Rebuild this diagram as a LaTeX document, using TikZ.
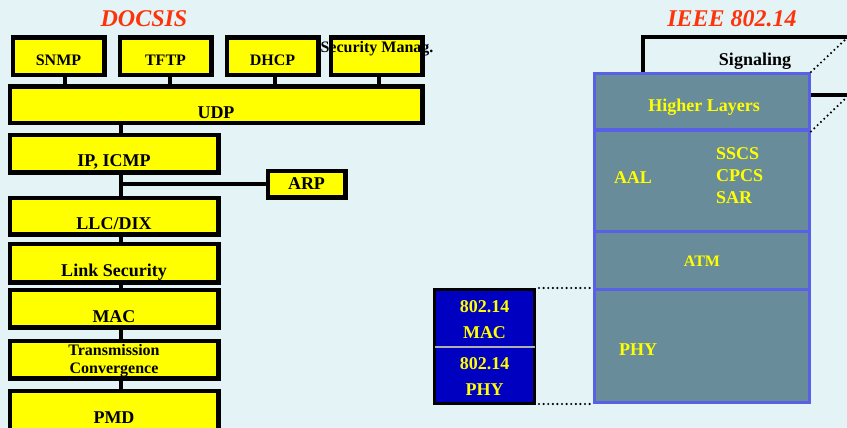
\documentclass[tikz,border=0pt]{standalone}
\usepackage{fontspec}
\setmainfont{Liberation Serif}
\definecolor{bg}{RGB}{228,244,246}
\definecolor{titlered}{RGB}{255,51,10}
\definecolor{boxyellow}{RGB}{255,255,0}
\definecolor{stackfill}{RGB}{105,140,154}
\definecolor{stackline}{RGB}{88,96,230}
\definecolor{macblue}{RGB}{0,0,192}
\definecolor{sepgrey}{RGB}{176,176,176}
\begin{document}
\begin{tikzpicture}[x=1pt,y=-1pt,
  ybox/.style={draw=black,line width=3pt,fill=boxyellow,rectangle,inner sep=0pt},
  sbox/.style={draw=stackline,line width=3pt,fill=stackfill,rectangle,inner sep=0pt},
  bbox/.style={draw=black,line width=3pt,fill=macblue,rectangle,inner sep=0pt},
  conn/.style={line width=3.2pt,draw=black},
  dotline/.style={line width=2.4pt,dash pattern=on 0pt off 4.6pt,line cap=round},
  lbl/.style={anchor=base,inner sep=0pt,font=\bfseries\fontsize{18}{18}\selectfont},
  lblsm/.style={anchor=base,inner sep=0pt,font=\bfseries\fontsize{16}{16}\selectfont},
  ylbl/.style={lbl,text=boxyellow},
  ylblsm/.style={lblsm,text=boxyellow},
  heading/.style={anchor=base,inner sep=0pt,text=titlered,font=\bfseries\itshape\fontsize{24}{24}\selectfont}]
\useasboundingbox (0,0) rectangle (847,428);
\fill[bg] (0,0) rectangle (847,428);

% ---------------- DOCSIS stack ----------------
\node[heading] (docsis) at (144,27) {DOCSIS};

\node[ybox,minimum width=90pt,minimum height=36pt] (snmp) at (58.5,56.5) {};
\node[ybox,minimum width=90pt,minimum height=36pt] (tftp) at (165.5,56.5) {};
\node[ybox,minimum width=90pt,minimum height=36pt] (dhcp) at (272.5,56.5) {};
\node[ybox,minimum width=90pt,minimum height=36pt] (secm) at (376.5,56.5) {};
\node[lblsm] (snmpT) at (58.5,66) {SNMP};
\node[lblsm] (tftpT) at (165.5,66) {TFTP};
\node[lblsm] (dhcpT) at (272.5,66) {DHCP};
\node[lblsm] (secmT) at (377,53) {Security Manag.};

\node[ybox,minimum width=411pt,minimum height=35pt] (udp) at (216,105) {};
\node[lbl] (udpT) at (216,118) {UDP};

\node[ybox,minimum width=207pt,minimum height=36pt] (ip) at (114,153.5) {};
\node[lbl] (ipT) at (114,166) {IP, ICMP};

\node[ybox,minimum width=76pt,minimum height=25pt] (arp) at (306.5,184) {};
\node[lbl] (arpT) at (306.5,189.5) {ARP};

\node[ybox,minimum width=207pt,minimum height=35pt] (llc) at (114,216) {};
\node[lbl] (llcT) at (114,229) {LLC/DIX};

\node[ybox,minimum width=207pt,minimum height=37pt] (lsec) at (114,263) {};
\node[lbl] (lsecT) at (114,276) {Link Security};

\node[ybox,minimum width=207pt,minimum height=36pt] (mac) at (114,308.5) {};
\node[lbl] (macT) at (114,322) {MAC};

\node[ybox,minimum width=207pt,minimum height=36pt] (tc) at (114,359.5) {};
\node[lblsm] (tcT1) at (114,355) {Transmission};
\node[lblsm] (tcT2) at (114,373) {Convergence};

\node[ybox,minimum width=207pt,minimum height=44pt] (pmd) at (114,413.5) {};
\node[lbl] (pmdT) at (114,423) {PMD};

% links between the DOCSIS layers
\draw[conn] ([xshift=6.5pt]snmp.south) -- ([xshift=6.5pt]snmp.south |- udp.north);
\draw[conn] ([xshift=4.5pt]tftp.south) -- ([xshift=4.5pt]tftp.south |- udp.north);
\draw[conn] ([xshift=2.5pt]dhcp.south) -- ([xshift=2.5pt]dhcp.south |- udp.north);
\draw[conn] ([xshift=2.5pt]secm.south) -- ([xshift=2.5pt]secm.south |- udp.north);
\draw[conn] ([xshift=7pt]ip.north |- udp.south) -- ([xshift=7pt]ip.north);
\draw[conn] ([xshift=7pt]ip.south) -- ([xshift=7pt]llc.north);
\draw[conn] ([xshift=7pt]ip.south |- arp.west) -- (arp.west);
\draw[conn] ([xshift=7pt]llc.south) -- ([xshift=7pt]lsec.north);
\draw[conn] ([xshift=7pt]lsec.south) -- ([xshift=7pt]mac.north);
\draw[conn] ([xshift=7pt]mac.south) -- ([xshift=7pt]tc.north);
\draw[conn] ([xshift=7pt]tc.south) -- ([xshift=7pt]pmd.north);

% re-stroke the box outlines over the links
\foreach \b in {snmp,tftp,dhcp,secm,udp,ip,arp,llc,lsec,mac,tc,pmd}
  \draw[line width=3pt] (\b.north west) rectangle (\b.south east);

% ---------------- IEEE 802.14 stack ----------------
\node[heading] (ieee) at (732,27) {IEEE 802.14};

\node[sbox,minimum width=215pt,minimum height=56.5pt] (higher) at (702,101.75) {};
\node[sbox,minimum width=215pt,minimum height=101pt] (aal) at (702,180.5) {};
\node[sbox,minimum width=215pt,minimum height=58pt] (atm) at (702,260) {};
\node[sbox,minimum width=215pt,minimum height=113.5pt] (phy) at (702,345.75) {};

\node[ylbl] (higherT) at (704,111) {Higher Layers};
\node[ylbl] (aalT) at (633,183) {AAL};
\node[ylbl,anchor=base west] (sscsT) at (716,159) {SSCS};
\node[ylbl,anchor=base west] (cpcsT) at (716,181) {CPCS};
\node[ylbl,anchor=base west] (sarT) at (716,203) {SAR};
\node[ylblsm] (atmT) at (702,266) {ATM};
\node[ylbl] (phyT) at (638,355) {PHY};

% signaling path and links leaving to the right
\coordinate (sigfoot) at (643,72);
\coordinate (sigend) at (850,37);
\draw[conn] (sigfoot) |- (sigend);
\node[lbl] (sigT) at (755,66) {Signaling};
\coordinate (hlend) at (850,95);
\draw[conn] (higher.east |- hlend) -- (hlend);
\coordinate (dtop) at (848,37);
\coordinate (dbot) at (848,96);
\draw[dotline] (higher.north east) -- (dtop);
\draw[dotline] (higher.south east) -- (dbot);

% 802.14 MAC/PHY block
\node[bbox,minimum width=100pt,minimum height=114pt] (blk) at (484.5,346.5) {};
\draw[sepgrey,line width=1.2pt] ([xshift=1.5pt]blk.west |- 0,347) coordinate (sepL) -- ([xshift=-1.5pt]blk.east |- 0,347) coordinate (sepR);
\node[ylbl] (bmac1) at (484.5,312) {802.14};
\node[ylbl] (bmac2) at (484.5,338) {MAC};
\node[ylbl] (bphy1) at (484.5,369) {802.14};
\node[ylbl] (bphy2) at (484.5,395) {PHY};

\draw[dotline] ([xshift=3pt]blk.north east) -- (blk.north east -| phy.west);
\draw[dotline] ([xshift=3pt]blk.south east |- phy.south) -- (phy.south west);
\end{tikzpicture}
\end{document}
